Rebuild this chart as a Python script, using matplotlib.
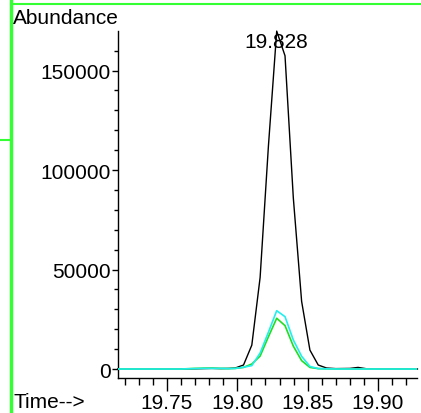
import matplotlib
matplotlib.use("Agg")
import matplotlib.pyplot as plt
from matplotlib.lines import Line2D
from matplotlib.ticker import MultipleLocator
import numpy as np

plt.rcParams['font.family'] = ['Liberation Sans', 'DejaVu Sans']

# retention time (min) of each scan
time = np.array([19.715, 19.760, 19.770, 19.776, 19.782, 19.788, 19.794,
                 19.7985, 19.8044, 19.8103, 19.8162, 19.8221, 19.828, 19.8339,
                 19.8398, 19.8457, 19.8516, 19.8575, 19.8634, 19.870, 19.880,
                 19.8858, 19.892, 19.928])
# TIC (black) and two extracted ions (green, cyan)
tic = np.array([0, 0, 100, 200, 300, 200, 300,
                500, 2000, 12000, 46000, 112000, 169800, 157400,
                86000, 34000, 9500, 2000, 500, 200, 300,
                800, 100, 0])
ion_green = np.array([0, 0, 300, 400, 400, 300, 200,
                      300, 800, 2500, 6500, 16200, 25500, 21800,
                      11500, 4200, 800, 200, 100, 0, 0,
                      0, 0, 0])
ion_cyan = np.array([0, 0, 200, 300, 300, 300, 200,
                     300, 900, 1700, 8000, 18500, 29300, 26300,
                     14600, 6400, 1300, 200, 100, 0, 0,
                     0, 0, 0])

peak_label = "19.828"
peak_time = 19.828

fs = 15

fig = plt.figure(figsize=(4.21, 4.14), dpi=100)
ax = fig.add_axes([118 / 421, 1 - 379 / 414, 299 / 421, 347 / 414])

ax.plot(time, tic, color='black', lw=1.0, clip_on=False, zorder=3)
ax.plot(time, ion_green, color='#22dd22', lw=1.2, zorder=4)
ax.plot(time, ion_cyan, color='#22eeee', lw=1.2, zorder=5)

ax.set_xlim(19.7152, 19.9277)
ax.set_ylim(-4520, 169850)

ax.spines['top'].set_visible(False)
ax.spines['right'].set_visible(False)
ax.spines['left'].set_linewidth(1.0)
ax.spines['bottom'].set_linewidth(1.0)

ax.set_xticks([19.75, 19.80, 19.85, 19.90])
ax.set_xticklabels(['19.75', '19.80', '19.85', '19.90'])
ax.xaxis.set_minor_locator(MultipleLocator(0.01))
ax.set_yticks([0, 50000, 100000, 150000])
ax.set_yticklabels(['0', '50000', '100000', '150000'])
ax.yaxis.set_minor_locator(MultipleLocator(10000))

ax.tick_params(axis='x', which='major', length=9, width=1, pad=2, labelsize=fs)
ax.tick_params(axis='x', which='minor', length=5, width=1)
ax.tick_params(axis='y', which='major', length=4, width=1, pad=1, labelsize=fs)
ax.tick_params(axis='y', which='minor', length=3, width=1)

ax.text(peak_time, 164800, peak_label, ha='center', va='center', fontsize=fs)

fig.text(13 / 421, 1 - 18 / 414, "Abundance", ha='left', va='center', fontsize=fs)
fig.text(13 / 421, 1 - 403 / 414, "Time-->", ha='left', va='center', fontsize=fs)

# green frame lines of the report window
green = '#33ff33'
fig.add_artist(Line2D([11 / 421, 11 / 421], [0, 1], color=green, lw=2.5,
                      transform=fig.transFigure))
fig.add_artist(Line2D([11 / 421, 1], [1 - 5 / 414, 1 - 5 / 414], color=green, lw=1.5,
                      transform=fig.transFigure))
fig.add_artist(Line2D([0, 11 / 421], [1 - 141 / 414, 1 - 141 / 414], color=green, lw=1.5,
                      transform=fig.transFigure))

fig.savefig("out.png", dpi=100)
